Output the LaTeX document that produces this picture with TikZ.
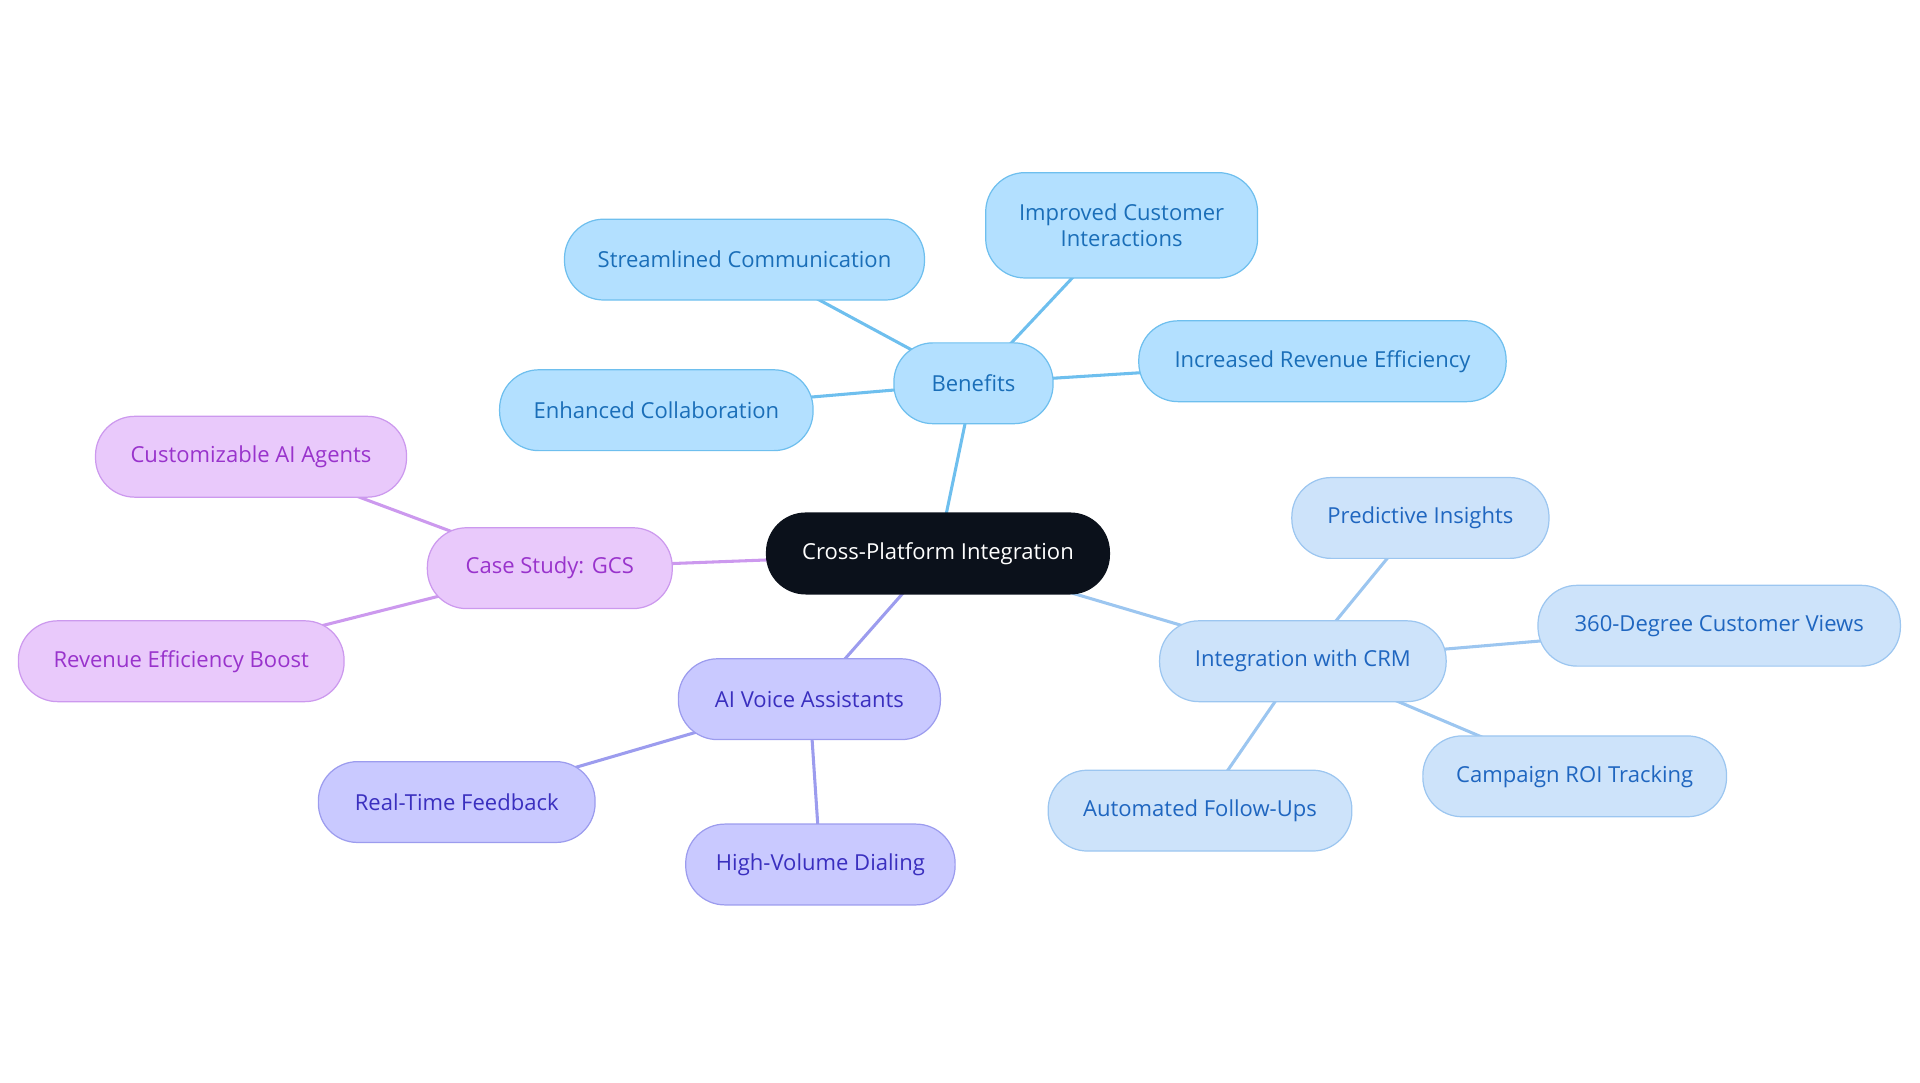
\documentclass[tikz,border=0pt]{standalone}
\usepackage{fontspec}
\setmainfont{Open Sans}
\usetikzlibrary{backgrounds}
\definecolor{bfill}{HTML}{B3E0FF}\definecolor{bline}{HTML}{6EBFEE}\definecolor{btext}{HTML}{1A6EB8}
\definecolor{cfill}{HTML}{CDE3FA}\definecolor{cline}{HTML}{9CC6F0}\definecolor{ctext}{HTML}{1F66C0}
\definecolor{afill}{HTML}{C9C9FF}\definecolor{aline}{HTML}{9C9CEE}\definecolor{atext}{HTML}{3A2FBF}
\definecolor{gfill}{HTML}{E9C9FB}\definecolor{gline}{HTML}{CC99EE}\definecolor{gtext}{HTML}{9933CC}
\definecolor{dark}{HTML}{0B111B}
\tikzset{
 box/.style={rounded corners=32pt,minimum height=66pt,inner sep=0pt,align=center,font=\fontsize{18pt}{21pt}\selectfont,line width=1pt},
 bb/.style={box,fill=bfill,draw=bline,text=btext},
 cb/.style={box,fill=cfill,draw=cline,text=ctext},
 ab/.style={box,fill=afill,draw=aline,text=atext},
 gb/.style={box,fill=gfill,draw=gline,text=gtext},
 be/.style={draw=bline,line width=2.5pt},
 ce/.style={draw=cline,line width=2.5pt},
 ae/.style={draw=aline,line width=2.5pt},
 ge/.style={draw=gline,line width=2.5pt},
}
\begin{document}
\begin{tikzpicture}[x=1pt,y=-1pt]
\useasboundingbox (0,0) rectangle (1568,884);
\node[box,fill=dark,draw=dark,text=white,minimum width=280pt] (c) at (766,452) {Cross-Platform Integration};
\node[bb,minimum width=130pt] (b) at (795,313) {Benefits};
\node[bb,minimum width=294pt] (b1) at (608,212) {Streamlined Communication};
\node[bb,minimum width=222pt,minimum height=86pt] (b2) at (916,184) {Improved Customer\\Interactions};
\node[bb,minimum width=300pt] (b3) at (1080,295) {Increased Revenue Efficiency};
\node[bb,minimum width=256pt] (b4) at (536,335) {Enhanced Collaboration};
\node[cb,minimum width=234pt] (r) at (1064,540) {Integration with CRM};
\node[cb,minimum width=210pt] (r1) at (1160,423) {Predictive Insights};
\node[cb,minimum width=296pt] (r2) at (1404,511) {360-Degree Customer Views};
\node[cb,minimum width=248pt] (r3) at (1286,634) {Campaign ROI Tracking};
\node[cb,minimum width=248pt] (r4) at (980,662) {Automated Follow-Ups};
\node[ab,minimum width=214pt] (a) at (661,571) {AI Voice Assistants};
\node[ab,minimum width=226pt] (a1) at (373,655) {Real-Time Feedback};
\node[ab,minimum width=220pt] (a2) at (670,706) {High-Volume Dialing};
\node[gb,minimum width=200pt] (g) at (449,464) {Case Study: GCS};
\node[gb,minimum width=254pt] (g1) at (205,373) {Customizable AI Agents};
\node[gb,minimum width=266pt] (g2) at (148,540) {Revenue Efficiency Boost};
\begin{scope}[on background layer]
\draw[be] (c.center)--(b.center);
\foreach \n in {b1,b2,b3,b4} \draw[be] (b.center)--(\n.center);
\draw[ce] (c.center)--(r.center);
\foreach \n in {r1,r2,r3,r4} \draw[ce] (r.center)--(\n.center);
\draw[ae] (c.center)--(a.center);
\foreach \n in {a1,a2} \draw[ae] (a.center)--(\n.center);
\draw[ge] (c.center)--(g.center);
\foreach \n in {g1,g2} \draw[ge] (g.center)--(\n.center);
\end{scope}
\end{tikzpicture}
\end{document}
